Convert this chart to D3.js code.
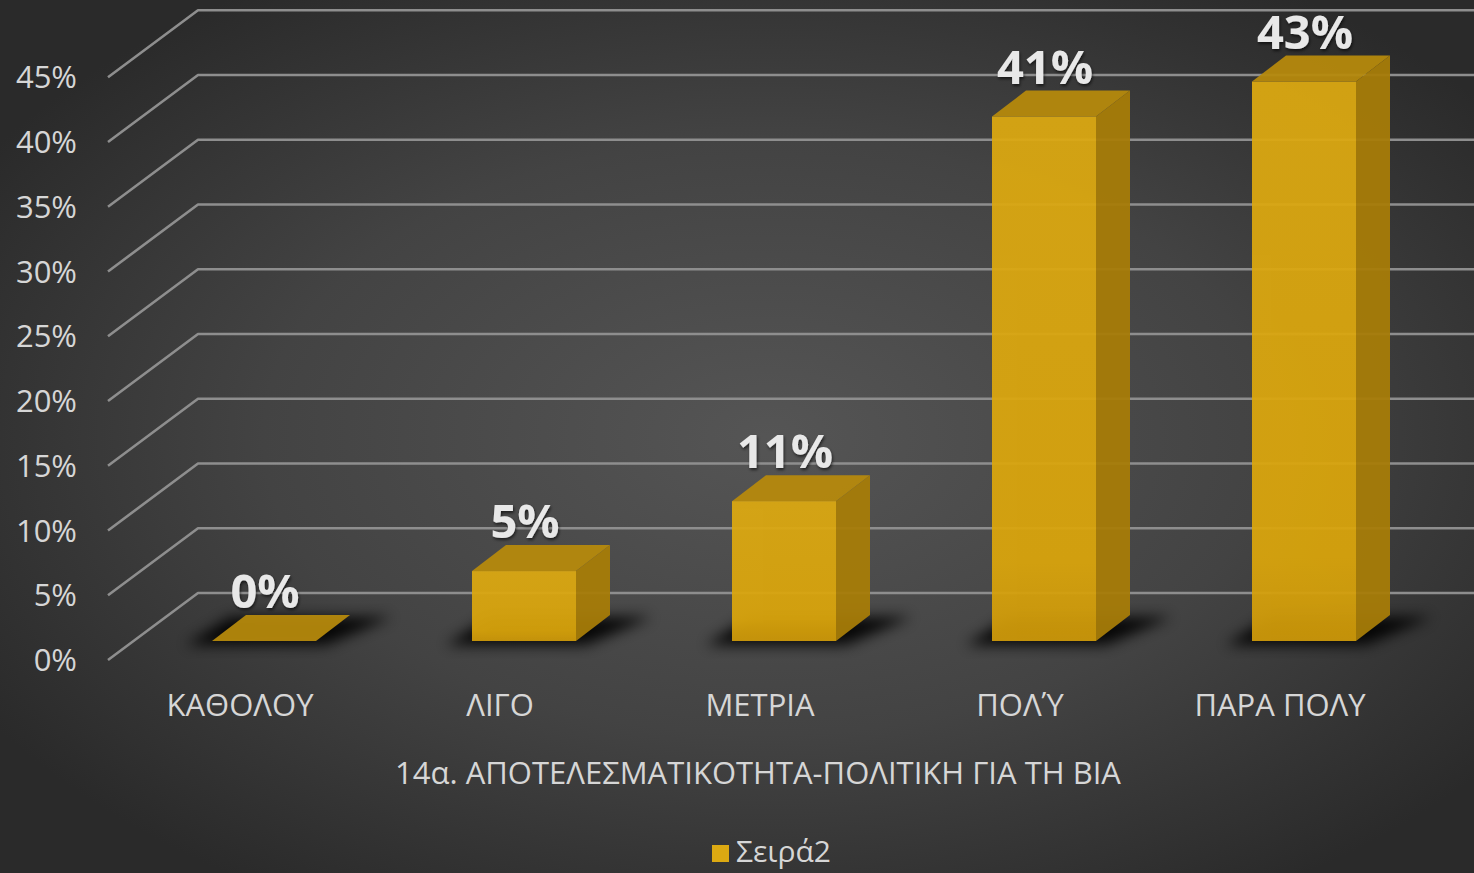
<!DOCTYPE html>
<html><head><meta charset="utf-8">
<script src="https://cdn.jsdelivr.net/npm/d3@7"></script>
<style>
html,body{margin:0;padding:0;background:#333;}
svg{display:block;}
</style>
</head><body>
<svg id="chart" width="1474" height="873"></svg>
<script>
// ---- data ----
const categories = ["ΚΑΘΟΛΟΥ", "ΛΙΓΟ", "ΜΕΤΡΙΑ", "ΠΟΛΎ", "ΠΑΡΑ ΠΟΛΥ"];
const seriesValues = [0, 0.054, 0.108, 0.405, 0.432];
const valueLabels = ["0%", "5%", "11%", "41%", "43%"];
const yTicks = [0, 0.05, 0.10, 0.15, 0.20, 0.25, 0.30, 0.35, 0.40, 0.45];
const seriesName = "Σειρά2";
const axisTitle = "14α. ΑΠΟΤΕΛΕΣΜΑΤΙΚΟΤΗΤΑ-ΠΟΛΙΤΙΚΗ ΓΙΑ ΤΗ ΒΙΑ";

// ---- layout ----
const W = 1474, H = 873;
const FONT = "'Open Sans', 'Noto Sans', sans-serif";
const svg = d3.select("#chart");
const defs = svg.append("defs");

const bg = defs.append("radialGradient").attr("id","bg")
  .attr("cx","52%").attr("cy","50%").attr("r","62%");
bg.append("stop").attr("offset","0%").attr("stop-color","#555555");
bg.append("stop").attr("offset","55%").attr("stop-color","#434343");
bg.append("stop").attr("offset","100%").attr("stop-color","#2a2a2a");
svg.append("rect").attr("width",W).attr("height",H).attr("fill","url(#bg)");

const blur = defs.append("filter").attr("id","blur")
  .attr("x","-50%").attr("y","-50%").attr("width","200%").attr("height","200%");
blur.append("feGaussianBlur").attr("stdDeviation",7);

const txtShadow = defs.append("filter").attr("id","tshadow")
  .attr("x","-20%").attr("y","-20%").attr("width","140%").attr("height","140%");
txtShadow.append("feDropShadow").attr("dx",1).attr("dy",2).attr("stdDeviation",1.5)
  .attr("flood-color","#000").attr("flood-opacity",0.6);

const frontGrad = defs.append("linearGradient").attr("id","front")
  .attr("x1","0").attr("y1","0").attr("x2","0").attr("y2","1");
frontGrad.append("stop").attr("offset","0%").attr("stop-color","#dca912");
frontGrad.append("stop").attr("offset","85%").attr("stop-color","#daa50c");
frontGrad.append("stop").attr("offset","100%").attr("stop-color","#cf9a0a");

// scales
const x = d3.scaleBand().domain(categories).range([108, 1408])
  .paddingInner(0.6).paddingOuter(0.3);
const y = d3.scaleLinear().domain([0, 0.45]).range([660, 660 - 9 * 64.75]);

// depth offsets (oblique projection)
const depth = {dx: 90, dy: -67};
const barFront = {dx: 26, dy: -19};
const barDepth = {dx: 34, dy: -26};

// gridlines
const grid = svg.append("g");
yTicks.forEach(t => {
  const yf = y(t), yb = yf + depth.dy;
  grid.append("path")
    .attr("d", `M${x.range()[0]},${yf}L${x.range()[0] + depth.dx},${yb}L${W + 40},${yb}`)
    .attr("fill","none").attr("stroke","#8e8e8e").attr("stroke-width",2.6)
    .attr("stroke-linejoin","round");
});

// y axis labels
svg.append("g").selectAll("text").data(yTicks).join("text")
  .attr("x", 77).attr("y", d => y(d)).attr("dy","0.36em")
  .attr("text-anchor","end")
  .attr("font-family",FONT)
  .attr("font-size",31).attr("fill","#d6d6d6")
  .text(d => d3.format(".0%")(d));

// bars
const bars = svg.append("g");
const data = categories.map((c, i) => ({c, v: seriesValues[i], label: valueLabels[i]}));

// shadows
bars.selectAll("path.shadow").data(data).join("path").attr("class","shadow")
  .attr("d", d => {
    const x0 = x(d.c) + barFront.dx - 26, x1 = x(d.c) + barFront.dx + x.bandwidth() + 10;
    const y0 = y(0) + barFront.dy + 4;
    return `M${x0},${y0}L${x1},${y0}L${x1 + barDepth.dx + 32},${y0 + barDepth.dy - 2}L${x0 + barDepth.dx + 10},${y0 + barDepth.dy - 2}Z`;
  })
  .attr("fill","#000").attr("opacity",0.9).attr("filter","url(#blur)");

data.forEach(d => {
  const g = bars.append("g").attr("opacity",0.94);
  const xl = x(d.c) + barFront.dx, xr = xl + x.bandwidth();
  const yb = y(0) + barFront.dy, yt = y(d.v) + barFront.dy;
  const ddx = barDepth.dx, ddy = barDepth.dy;
  // side
  g.append("path").attr("d", `M${xr},${yt}L${xr + ddx},${yt + ddy}L${xr + ddx},${yb + ddy}L${xr},${yb}Z`)
    .attr("fill","#a87d08");
  // top
  g.append("path").attr("d", `M${xl},${yt}L${xl + ddx},${yt + ddy}L${xr + ddx},${yt + ddy}L${xr},${yt}Z`)
    .attr("fill","#b78a0c");
  // front
  if (yb - yt > 0.5) {
    g.append("rect").attr("x", xl).attr("y", yt).attr("width", x.bandwidth()).attr("height", yb - yt)
      .attr("fill","url(#front)");
  }
});

// value labels
svg.append("g").selectAll("text").data(data).join("text")
  .attr("x", d => x(d.c) + barFront.dx + x.bandwidth() / 2 + 1)
  .attr("y", d => y(d.v) + barFront.dy - 33)
  .attr("text-anchor","middle")
  .attr("font-family",FONT)
  .attr("font-weight","bold").attr("font-size",47).attr("fill","#e8e8e8")
  .attr("filter","url(#tshadow)")
  .text(d => d.label);

// category labels
svg.append("g").selectAll("text").data(categories).join("text")
  .attr("x", d => x(d) + x.bandwidth() / 2 + 2).attr("y", 716)
  .attr("text-anchor","middle")
  .attr("font-family",FONT)
  .attr("font-size",31).attr("fill","#d6d6d6")
  .text(d => d);

// axis title
svg.append("text").attr("x", 758).attr("y", 784).attr("text-anchor","middle")
  .attr("font-family",FONT)
  .attr("font-size",31).attr("fill","#d6d6d6")
  .text(axisTitle);

// legend
const lg = svg.append("g");
lg.append("rect").attr("x",712).attr("y",845).attr("width",17).attr("height",17).attr("fill","#dca912");
lg.append("text").attr("x",736).attr("y",862)
  .attr("font-family",FONT)
  .attr("font-size",30).attr("fill","#d6d6d6").text(seriesName);
</script>
</body></html>
